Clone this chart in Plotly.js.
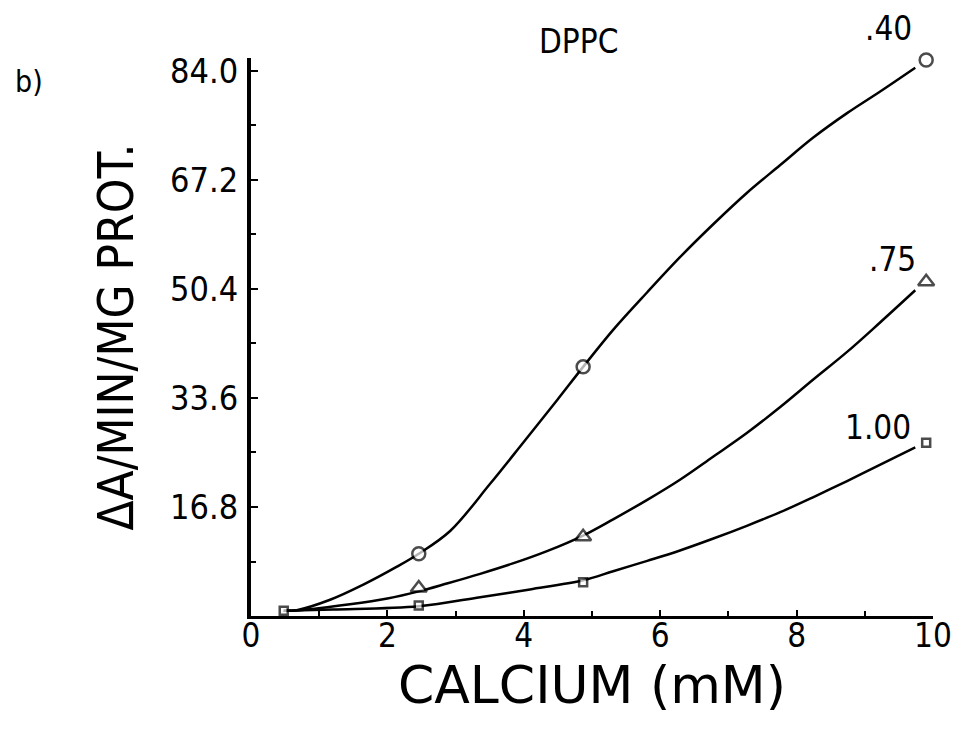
<!DOCTYPE html>
<html>
<head>
<meta charset="utf-8">
<script src="https://cdn.plot.ly/plotly-3.0.1.min.js"></script>
<style>
  html, body { margin: 0; padding: 0; background: #fff; }
  #chart { width: 958px; height: 731px; }
</style>
</head>
<body>
<div id="chart"></div>
<script>
// Measured points: calcium concentration (mM)
const calcium = [0.48, 2.46, 4.87, 9.9];
// Measured activity (ΔA/min/mg prot.) for each curve
const series40 = [0.8, 9.6, 38.4, 85.7];
const series75 = [0.8, 4.3, 12.2, 51.5];
const series100 = [0.8, 1.6, 5.2, 26.7];

// Hand-drawn fitted curves
const curve40X = [0.48, 0.67, 1.16, 1.64, 2.14, 2.46, 2.92, 3.50, 3.99, 4.49, 4.87, 5.31, 5.81, 6.29, 6.77, 7.27, 7.76, 8.24, 8.74, 9.22, 9.74];
const curve40Y = [0.8, 0.9, 2.5, 4.8, 7.6, 9.6, 13.1, 20.3, 26.7, 33.3, 38.4, 44.1, 49.9, 55.3, 60.3, 65.2, 69.5, 73.7, 77.5, 80.8, 84.5];
const curve75X = [0.48, 0.72, 1.45, 2.0, 2.46, 2.87, 3.36, 3.84, 4.34, 4.87, 5.31, 5.81, 6.29, 6.77, 7.27, 7.76, 8.24, 8.74, 9.22, 9.74];
const curve75Y = [0.8, 0.9, 1.8, 2.7, 3.8, 5.0, 6.5, 8.1, 10.0, 12.4, 14.9, 17.9, 21.0, 24.5, 28.2, 32.2, 36.4, 40.7, 45.2, 50.2];
const curve100X = [0.48, 1.2, 2.46, 3.36, 4.09, 4.87, 5.31, 5.81, 6.29, 6.77, 7.27, 7.76, 8.24, 8.74, 9.22, 9.74];
const curve100Y = [0.8, 1.0, 1.5, 2.9, 4.1, 5.5, 6.9, 8.5, 10.1, 11.9, 13.9, 16.0, 18.3, 20.8, 23.3, 26.0];

const seriesLabels = ['.40', '.75', '1.00'];
const yTicks = [16.8, 33.6, 50.4, 67.2, 84.0];
const yTickText = ['16.8', '33.6', '50.4', '67.2', '84.0'];
const xTicks = [0, 2, 4, 6, 8, 10];
const xTickText = ['0', '2', '4', '6', '8', '10'];

const FONT = '"DejaVu Sans Condensed", "DejaVu Sans", sans-serif';

function curve(x, y, label) {
  return {
    x: x, y: y, name: label, type: 'scatter', mode: 'lines',
    line: { color: '#000', width: 2.5, shape: 'spline', smoothing: 1 },
    showlegend: false, hoverinfo: 'skip'
  };
}
function pts(y, symbol, size, hideFirst, label) {
  return {
    x: calcium, y: y, name: label, type: 'scatter', mode: 'markers',
    marker: {
      symbol: symbol,
      size: calcium.map((_, i) => (hideFirst && i === 0) ? 0 : size),
      color: '#fff',
      line: { color: '#000', width: 2.5 }
    },
    cliponaxis: false, showlegend: false
  };
}

const traces = [
  curve(curve40X, curve40Y, seriesLabels[0]),
  curve(curve75X, curve75Y, seriesLabels[1]),
  curve(curve100X, curve100Y, seriesLabels[2]),
  pts(series40, 'circle', 13, true, seriesLabels[0]),
  pts(series75, 'triangle-up', 14, true, seriesLabels[1]),
  pts(series100, 'square', 8, false, seriesLabels[2])
];

const plotH = 616 - 58;
const layout = {
  width: 958, height: 731,
  margin: { l: 251, r: 25, t: 58, b: 115 },
  paper_bgcolor: '#fff', plot_bgcolor: '#fff',
  font: { family: FONT, color: '#000' },
  xaxis: {
    range: [0, 10],
    showline: true, linecolor: '#000', linewidth: 3,
    showgrid: false, zeroline: false,
    ticks: 'inside', ticklen: 6, tickwidth: 2, tickcolor: '#000',
    tickvals: xTicks, ticktext: xTickText,
    minor: { dtick: 1, tick0: 0, ticks: 'inside', ticklen: 5, tickwidth: 2, tickcolor: '#000' },
    tickfont: { size: 33, family: FONT },
    ticklabelstandoff: -12,
    title: { text: 'CALCIUM (mM)', font: { size: 52, family: '"DejaVu Sans", sans-serif' }, standoff: 10 }
  },
  yaxis: {
    range: [0, 86],
    showline: true, linecolor: '#000', linewidth: 4,
    showgrid: false, zeroline: false,
    ticks: 'inside', ticklen: 7, tickwidth: 2, tickcolor: '#000',
    tickvals: yTicks, ticktext: yTickText,
    minor: { dtick: 8.4, tick0: 0, ticks: 'inside', ticklen: 5, tickwidth: 2, tickcolor: '#000' },
    tickfont: { size: 34, family: FONT },
    ticklabelstandoff: 2,
    title: { text: 'ΔA/MIN/MG PROT.', font: { size: 49, family: FONT }, standoff: 22 }
  },
  annotations: [
    { text: 'b)', xref: 'paper', yref: 'paper', x: -251/682, y: 1 + (58-82)/plotH, xanchor: 'left', yanchor: 'middle',
      xshift: 13, showarrow: false, font: { size: 30, family: FONT } },
    { text: 'DPPC', xref: 'x', yref: 'paper', x: 4.8, y: 1 + (58-42)/plotH, xanchor: 'center', yanchor: 'middle',
      showarrow: false, font: { size: 33, family: FONT } },
    { text: seriesLabels[0], xref: 'x', yref: 'paper', x: 9.35, y: 1 + (58-28)/plotH, xanchor: 'center', yanchor: 'middle',
      showarrow: false, font: { size: 33, family: FONT } },
    { text: seriesLabels[1], xref: 'x', yref: 'y', x: 9.4, y: 55.0, xanchor: 'center', yanchor: 'middle',
      showarrow: false, font: { size: 33, family: FONT } },
    { text: seriesLabels[2], xref: 'x', yref: 'y', x: 9.2, y: 29.0, xanchor: 'center', yanchor: 'middle',
      showarrow: false, font: { size: 33, family: FONT } }
  ]
};

Plotly.newPlot('chart', traces, layout, { displayModeBar: false, staticPlot: true });
</script>
</body>
</html>
